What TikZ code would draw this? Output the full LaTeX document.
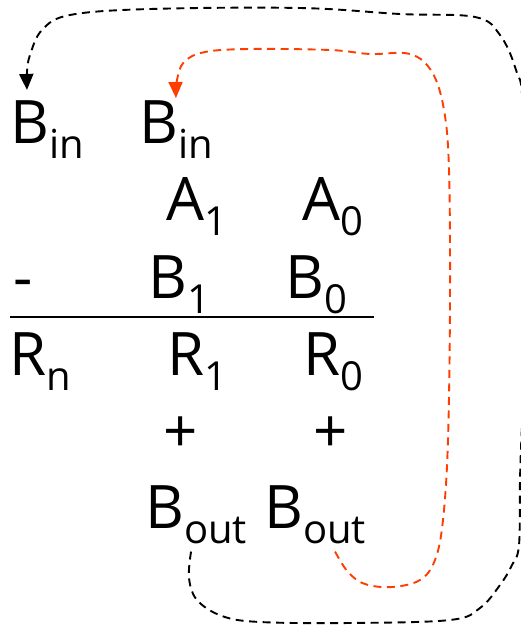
\documentclass[tikz,border=0pt]{standalone}
\usepackage{fontspec}
\setmainfont{Open Sans}
\usetikzlibrary{arrows.meta,calc}
\definecolor{borrowred}{RGB}{255,61,0}
\newcommand{\lowtxt}[1]{\raisebox{-15pt}{\fontsize{40}{40}\selectfont #1}}
\tikzset{
  digit/.style={
    inner sep=0pt,
    anchor=base west,
    font=\fontsize{60}{60}\selectfont
  },
  sign/.style={
    inner sep=0pt,
    font=\fontsize{60}{60}\selectfont
  },
  flow/.style={
    dash pattern=on 8pt off 5.5pt,
    line width=1.9pt,
    -{Triangle[length=16pt,width=14pt]}
  }
}
\begin{document}
\begin{tikzpicture}[x=1pt,y=-1pt]
    \useasboundingbox (0,0) rectangle (520,627);
    % borrows in
    \node[digit] (binL) at (10,143) {B\lowtxt{in}};
    \node[digit] (binR) at (139,143) {B\lowtxt{in}};
    % minuend
    \node[digit] (a1) at (166,220) {A\lowtxt{1}};
    \node[digit] (a0) at (302,220) {A\lowtxt{0}};
    % subtrahend
    \node[digit] (minus) at (13,298) {-};
    \node[digit] (b1) at (148,298) {B\lowtxt{1}};
    \node[digit] (b0) at (285,298) {B\lowtxt{0}};
    \draw[line width=1.3pt] (10,317) -- (374,317);
    % result
    \node[digit] (rn) at (9,375) {R\lowtxt{n}};
    \node[digit] (r1) at (167,375) {R\lowtxt{1}};
    \node[digit] (r0) at (303,375) {R\lowtxt{0}};
    \node[sign] (plus1) at (181,435) {+};
    \node[sign] (plus0) at (331,435) {+};
    % borrows out
    \node[digit] (bout1) at (145,528) {B\lowtxt{out}};
    \node[digit] (bout0) at (264,528) {B\lowtxt{out}};
    % red: bout0 -> binR
    \draw[flow, borrowred] plot[smooth, tension=0.6] coordinates {
        ([xshift=20pt,yshift=-8pt]bout0.south) (348,572) (365,584) (392,587) (420,580)
        (435,560) (443,520) (448,440) (450,300) (449,170) (444,110) (432,72)
        (410,54) (370,54) (330,50) (250,49) (205,52) (184,62) (177,80)
        ([yshift=2pt]binR.north)};
    % black: bout1 -> binL
    \draw[flow] plot[smooth, tension=0.6] coordinates {
        ([xshift=-5pt,yshift=-8pt]bout1.south) (189,578) (197,600) (222,616) (260,622)
        (350,623) (450,620) (480,608) (500,585) (512,565) (519,545) (520,480)
        (522,425) (528,300) (523,110) (516,70) (500,35) (475,17) (400,14) (300,8)
        (150,9) (70,15) (42,30) (30,55) (27,72)
        ([xshift=-20pt,yshift=10pt]binL.north)};
\end{tikzpicture}
\end{document}
